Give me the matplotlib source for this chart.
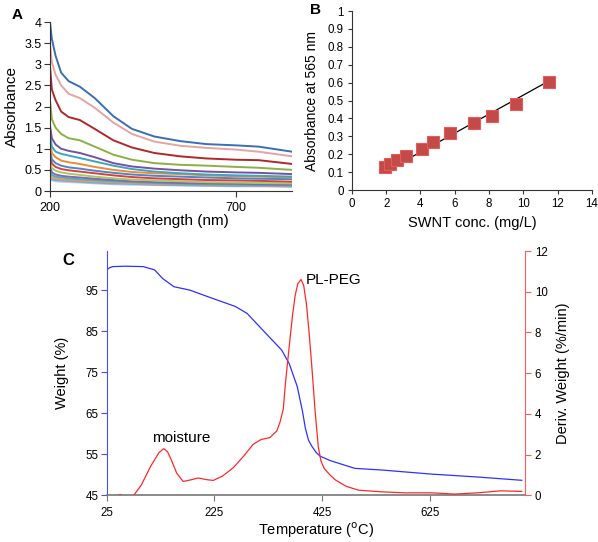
import matplotlib
matplotlib.use("Agg")
import matplotlib.pyplot as plt
import numpy as np

plt.rcParams['font.family'] = ['Liberation Sans', 'DejaVu Sans']

# ---------------- Panel A data ----------------
wavelength = [200, 205, 215, 230, 250, 280, 320, 370, 420, 480, 550, 620, 700, 760, 850]
abs_curves = [
    [4.00, 3.60, 3.20, 2.80, 2.60, 2.47, 2.20, 1.77, 1.47, 1.29, 1.18, 1.11, 1.08, 1.05, 0.93],
    [3.50, 3.05, 2.75, 2.50, 2.30, 2.20, 1.97, 1.62, 1.35, 1.17, 1.07, 1.02, 0.98, 0.93, 0.82],
    [2.95, 2.40, 2.15, 1.88, 1.75, 1.68, 1.47, 1.20, 1.03, 0.90, 0.82, 0.77, 0.74, 0.73, 0.64],
    [2.15, 1.70, 1.50, 1.35, 1.25, 1.20, 1.05, 0.86, 0.74, 0.66, 0.62, 0.60, 0.57, 0.55, 0.50],
    [1.55, 1.25, 1.10, 1.00, 0.95, 0.90, 0.80, 0.66, 0.58, 0.53, 0.49, 0.46, 0.44, 0.43, 0.40],
    [1.35, 1.05, 0.93, 0.88, 0.84, 0.78, 0.70, 0.60, 0.52, 0.46, 0.42, 0.39, 0.37, 0.36, 0.34],
    [1.20, 0.90, 0.80, 0.72, 0.68, 0.64, 0.57, 0.50, 0.45, 0.42, 0.40, 0.37, 0.35, 0.34, 0.32],
    [1.00, 0.75, 0.66, 0.60, 0.56, 0.53, 0.48, 0.43, 0.39, 0.36, 0.34, 0.32, 0.30, 0.29, 0.28],
    [0.90, 0.65, 0.57, 0.52, 0.49, 0.46, 0.42, 0.37, 0.33, 0.30, 0.28, 0.26, 0.25, 0.24, 0.22],
    [0.75, 0.55, 0.48, 0.44, 0.41, 0.38, 0.34, 0.30, 0.27, 0.25, 0.23, 0.21, 0.20, 0.19, 0.18],
    [0.60, 0.44, 0.39, 0.36, 0.34, 0.32, 0.29, 0.26, 0.23, 0.21, 0.19, 0.18, 0.17, 0.16, 0.15],
    [0.50, 0.38, 0.34, 0.32, 0.30, 0.28, 0.26, 0.23, 0.21, 0.19, 0.17, 0.16, 0.15, 0.14, 0.13],
    [0.42, 0.33, 0.30, 0.28, 0.27, 0.25, 0.23, 0.21, 0.19, 0.17, 0.16, 0.15, 0.14, 0.13, 0.12],
    [0.35, 0.28, 0.26, 0.25, 0.24, 0.22, 0.20, 0.18, 0.17, 0.15, 0.14, 0.13, 0.12, 0.12, 0.11],
    [0.30, 0.25, 0.23, 0.22, 0.21, 0.20, 0.18, 0.16, 0.15, 0.14, 0.13, 0.12, 0.11, 0.11, 0.10],
]
curve_colors = ['#3a6eb5', '#e4a4a4', '#b0282a', '#8db045', '#7552a0', '#3aa5c5',
                '#f08a30', '#4a86c8', '#d84040', '#a8c868', '#8468b0', '#48b0c8',
                '#f59848', '#78a8d8', '#b8c8e0']

# ---------------- Panel B data ----------------
swnt_conc = [1.9, 2.2, 2.6, 3.15, 4.1, 4.75, 5.75, 7.15, 8.2, 9.55, 11.5]
abs_565 = [0.13, 0.145, 0.165, 0.19, 0.23, 0.27, 0.32, 0.375, 0.415, 0.48, 0.605]

# ---------------- Panel C data ----------------
temp_w = [25, 30, 36, 60, 93, 114, 129, 150, 179, 221, 264, 286, 321, 350, 364,
          379, 384, 389, 394, 400, 406, 414, 421, 440, 486, 536, 629, 714, 796]
weight = [99.9, 100.4, 100.7, 100.8, 100.7, 99.9, 97.8, 95.8, 95.0, 93.0, 91.0, 89.3,
          84.4, 80.4, 77.1, 71.5, 68.4, 65.3, 61.4, 58.4, 57.0, 55.5, 54.6, 53.5,
          51.6, 51.2, 50.2, 49.5, 48.7]
temp_d = [25, 45, 50, 55, 60, 70, 75, 89, 107, 122, 131, 138, 145, 155, 167, 180, 195,
          210, 223, 240, 260, 280, 297, 312, 328, 341, 347, 353, 357, 364, 370, 375,
          380, 386, 391, 396, 401, 407, 412, 418, 423, 429, 440, 450, 470, 493, 536,
          579, 629, 671, 714, 757, 796]
deriv = [-0.3, -0.05, 0.05, -0.05, -0.3, -0.1, 0.0, 0.5, 1.45, 2.1, 2.3, 2.15, 1.75,
         1.1, 0.69, 0.76, 0.86, 0.78, 0.74, 0.95, 1.36, 1.95, 2.51, 2.75, 2.84, 3.17,
         3.6, 4.24, 5.5, 7.3, 8.8, 9.8, 10.4, 10.6, 10.3, 9.4, 8.0, 6.0, 4.2, 2.4, 1.7,
         1.33, 1.0, 0.76, 0.45, 0.26, 0.18, 0.13, 0.13, 0.07, 0.13, 0.23, 0.2]

fig = plt.figure(figsize=(5.98, 5.42), dpi=100)

# ---------------- Panel A ----------------
axA = fig.add_axes([0.0836, 0.6476, 0.405, 0.3118])
for vals, c in zip(abs_curves[::-1], curve_colors[::-1]):
    axA.plot(wavelength, vals, color=c, lw=1.4)
axA.set_xlim(200, 850)
axA.set_ylim(0, 4)
axA.set_xticks([200, 700])
axA.set_yticks(np.arange(0, 4.01, 0.5))
axA.set_yticklabels(['0', '0.5', '1', '1.5', '2', '2.5', '3', '3.5', '4'])
for s in ['top', 'right']:
    axA.spines[s].set_visible(False)
axA.spines['left'].set_color('#333333')
axA.spines['bottom'].set_color('#333333')
axA.tick_params(labelsize=9, length=4, color='#333333', pad=2)
axA.tick_params(axis='x', pad=4)
axA.set_xlabel('Wavelength (nm)', fontsize=11, labelpad=0)
axA.set_ylabel('Absorbance', fontsize=11, labelpad=4)
fig.text(0.020, 0.985, 'A', fontsize=11, fontweight='bold', va='top')

# ---------------- Panel B ----------------
axB = fig.add_axes([0.5886, 0.6494, 0.401, 0.3303])
x_arr = np.array(swnt_conc)
y_arr = np.array(abs_565)
slope = np.sum(x_arr * y_arr) / np.sum(x_arr ** 2)
fx = np.array([2.0, max(swnt_conc)])
axB.plot(fx, slope * fx, color='black', lw=0.9, zorder=2)
axB.plot(swnt_conc, abs_565, ls='none', marker='s', ms=8, mfc='#c24a48',
         mec='#e85a5a', mew=0.8, zorder=3)
axB.set_xlim(0, 14)
axB.set_ylim(0, 1)
axB.set_xticks(np.arange(0, 15, 2))
axB.set_yticks(np.arange(0, 1.01, 0.1))
axB.set_yticklabels(['0', '0.1', '0.2', '0.3', '0.4', '0.5', '0.6', '0.7', '0.8', '0.9', '1'])
for s in ['top', 'right']:
    axB.spines[s].set_visible(False)
axB.spines['left'].set_color('#333333')
axB.spines['bottom'].set_color('#333333')
axB.tick_params(labelsize=8.3, length=3, color='#333333', pad=3)
axB.set_xlabel('SWNT conc. (mg/L)', fontsize=10.5, labelpad=4)
axB.set_ylabel('Absorbance at 565 nm', fontsize=10, labelpad=6)
fig.text(0.519, 0.995, 'B', fontsize=11, fontweight='bold', va='top')

# ---------------- Panel C ----------------
axC = fig.add_axes([0.1784, 0.0858, 0.6995, 0.4511])
axC.plot(temp_w, weight, color='#3030ff', lw=0.9)
axC.set_xlim(25, 802)
axC.set_ylim(45, 104.5)
axC.set_xticks([25, 225, 425, 625])
axC.set_yticks([45, 55, 65, 75, 85, 95])
axC.spines['top'].set_visible(False)
axC.spines['right'].set_visible(False)
axC.spines['left'].set_color('#4a4aff')
axC.spines['bottom'].set_color('#777777')
axC.spines['bottom'].set_linewidth(1.2)
axC.tick_params(axis='y', colors='#4a4aff', labelcolor='black', labelsize=8.3, length=4, pad=2)
axC.tick_params(axis='x', colors='#777777', labelcolor='black', labelsize=8.3, length=4, pad=4)
axC.set_xlabel('Temperature ($^{\\rm o}$C)', fontsize=10.5, labelpad=1)
axC.set_ylabel('Weight (%)', fontsize=10.5, labelpad=12)

axC2 = axC.twinx()
axC2.plot(temp_d, deriv, color='#ff2828', lw=0.9)
axC2.set_ylim(0, 12)
axC2.set_yticks(np.arange(0, 13, 2))
for s in ['top', 'left', 'bottom']:
    axC2.spines[s].set_visible(False)
axC2.spines['right'].set_color('#ff5a5a')
axC2.tick_params(axis='y', colors='#ff5a5a', labelcolor='black', labelsize=8.3, length=4, pad=3)
axC2.set_ylabel('Deriv. Weight (%/min)', fontsize=10.5, labelpad=6)

axC.text(395, 97.4, 'PL-PEG', fontsize=11, va='center', ha='left')
axC.text(109, 58.9, 'moisture', fontsize=11, va='center', ha='left')
fig.text(0.104, 0.52, 'C', fontsize=12, fontweight='bold', va='center')

fig.savefig('out.png', dpi=100)
